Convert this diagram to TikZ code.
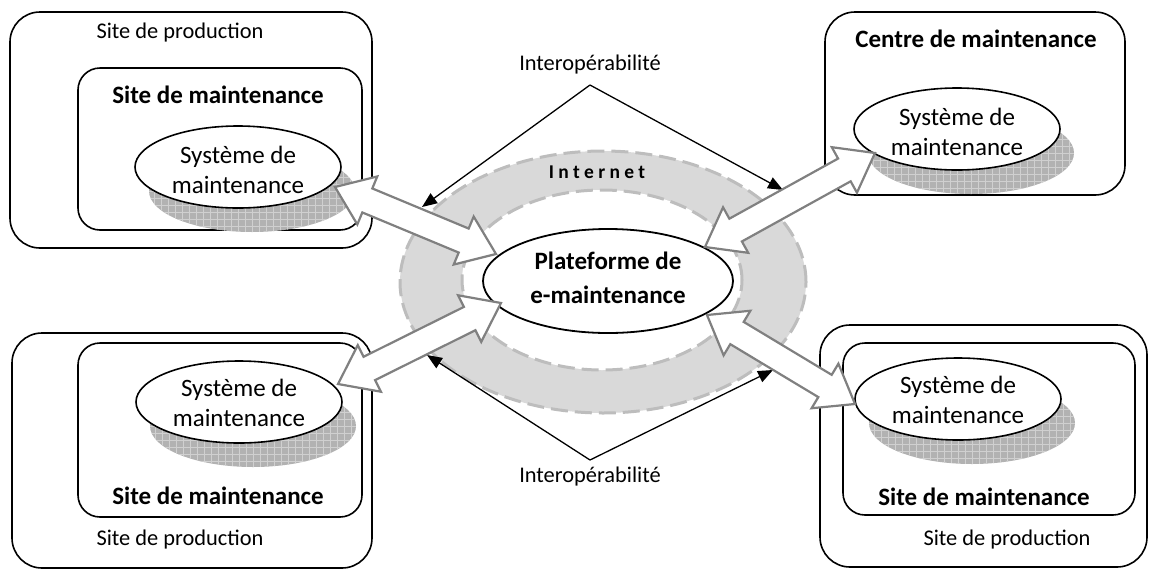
\documentclass[tikz,border=0pt]{standalone}
\usepackage{fontspec}
\setmainfont{Carlito}
\usetikzlibrary{calc,arrows.meta,shapes.geometric}
\definecolor{ringfill}{HTML}{D9D9D9}
\definecolor{ringdash}{HTML}{BDBDBD}
\definecolor{arrgray}{HTML}{808080}
\definecolor{shadowfill}{HTML}{B2B2B2}
\definecolor{shadowgrid}{HTML}{D0D0D0}
\newcommand\fahl{35pt}
\newcommand\fahw{26pt}
\newcommand\fasw{13pt}
\newcommand\fatarrow[3]{%
  \coordinate (#3P) at ($(#1)!\fahl!(#2)$);
  \coordinate (#3Q) at ($(#2)!\fahl!(#1)$);
  \draw[fatarr] (#1)
    -- ($(#3P)!\fahw!90:(#2)$)
    -- ($(#3P)!\fasw!90:(#2)$)
    -- ($(#3Q)!\fasw!-90:(#1)$)
    -- ($(#3Q)!\fahw!-90:(#1)$)
    -- (#2)
    -- ($(#3Q)!\fahw!90:(#1)$)
    -- ($(#3Q)!\fasw!90:(#1)$)
    -- ($(#3P)!\fasw!-90:(#2)$)
    -- ($(#3P)!\fahw!-90:(#2)$)
    -- cycle;
}
\begin{document}
\begin{tikzpicture}[x=1pt,y=-1pt,
  outerbox/.style={draw=black, line width=1.6pt, rounded corners=30pt, inner sep=0pt, outer sep=0pt},
  innerbox/.style={draw=black, line width=1.6pt, rounded corners=22pt, inner sep=0pt, outer sep=0pt},
  sysell/.style={ellipse, draw=black, line width=1.6pt, fill=white, inner sep=0pt, minimum width=206pt, minimum height=82pt},
  shadowell/.style={ellipse, inner sep=0pt, minimum width=206pt, minimum height=82pt, fill=shadowfill,
    path picture={\draw[shadowgrid, line width=0.6pt, step=7pt] (path picture bounding box.south west) grid (path picture bounding box.north east);}},
  systext/.style={align=center, inner sep=0pt, font=\fontsize{25}{30}\selectfont},
  boldlabel/.style={inner sep=0pt, font=\fontsize{25}{30}\selectfont\bfseries},
  plainlabel/.style={inner sep=0pt, font=\fontsize{22.4}{27}\selectfont},
  fatarr/.style={draw=arrgray, fill=white, line width=2.2pt, line join=miter},
  interarr/.style={draw=black, line width=1.3pt, -{Triangle[length=15pt,width=12pt]}},
  ringell/.style={ellipse, inner sep=0pt, draw=ringdash, line width=3pt, dash pattern=on 17pt off 7pt}
]
\useasboundingbox (0,0) rectangle (1151,571);

% ---------- boxes ----------
\node[outerbox, minimum width=362pt, minimum height=236pt] (tlout) at (191,130) {};
\node[innerbox, minimum width=284pt, minimum height=162pt] (tlin) at (220,149) {};
\node[outerbox, minimum width=300pt, minimum height=183pt] (trbox) at (975,103.5) {};
\node[outerbox, minimum width=360pt, minimum height=235pt] (blout) at (192,450.5) {};
\node[innerbox, minimum width=284pt, minimum height=174pt] (blin) at (220,430) {};
\node[outerbox, minimum width=327pt, minimum height=242pt] (brout) at (983.5,446) {};
\node[innerbox, minimum width=292pt, minimum height=172pt] (brin) at (989,429) {};

% ---------- labels ----------
\node[plainlabel] (tlprod) at (180,33) {Site de production};
\node[boldlabel] (tlmaint) at (218,95) {Site de maintenance};
\node[boldlabel] (trcentre) at (976,39) {Centre de maintenance};
\node[boldlabel] (blmaint) at (218,496) {Site de maintenance};
\node[plainlabel] (blprod) at (180,540) {Site de production};
\node[boldlabel] (brmaint) at (984,497) {Site de maintenance};
\node[plainlabel] (brprod) at (1007,540) {Site de production};

% ---------- shadows and system ellipses ----------
\node[shadowell] (tlsh) at (252,191) {};
\node[sysell] (tlsys) at (238,167) {};
\node[systext] (tlsyst) at (238,170) {Système de\\maintenance};

\node[shadowell] (trsh) at (971,153) {};
\node[sysell] (trsys) at (957,129) {};
\node[systext] (trsyst) at (957,132) {Système de\\maintenance};

\node[shadowell] (blsh) at (253,426) {};
\node[sysell] (blsys) at (239,402) {};
\node[systext] (blsyst) at (239,403) {Système de\\maintenance};

\node[shadowell] (brsh) at (972,423) {};
\node[sysell] (brsys) at (958,399) {};
\node[systext] (brsyst) at (958,400) {Système de\\maintenance};

% ---------- Internet ring ----------
\node[ringell, fill=ringfill, minimum width=406pt, minimum height=262pt] (ringout) at (603,282) {};
\node[ringell, fill=white, minimum width=280pt, minimum height=180pt] (ringin) at (602,280) {};
\node[inner sep=0pt, font=\fontsize{19.5}{22}\selectfont\bfseries] (inet) at (597,172)
  {I\kern4.3pt n\kern4.3pt t\kern4.3pt e\kern4.3pt r\kern4.3pt n\kern4.3pt e\kern4.3pt t};

% ---------- interoperability ----------
\node[plainlabel] (itop) at (590,65) {Interopérabilité};
\node[plainlabel] (ibot) at (590,477) {Interopérabilité};
\coordinate (itopapex) at (590,85);
\coordinate (ibotapex) at (590,460);
\coordinate (itoptl) at (422,207);
\coordinate (itoptr) at (783,190);
\coordinate (ibotbl) at (427,355);
\coordinate (ibotbr) at (773,370);
\draw[interarr] (itopapex) -- (itoptl);
\draw[interarr] (itopapex) -- (itoptr);
\draw[interarr] (ibotapex) -- (ibotbl);
\draw[interarr] (ibotapex) -- (ibotbr);

% ---------- central platform ----------
\node[ellipse, draw=black, line width=1.8pt, fill=white, inner sep=0pt,
      minimum width=250pt, minimum height=104pt] (plat) at (608,281) {};
\node[align=center, inner sep=0pt, font=\fontsize{25}{34}\selectfont\bfseries] (platt) at (608,278)
  {Plateforme de\\e-maintenance};

% ---------- double arrows ----------
\coordinate (a1s) at (335,187);
\coordinate (a1e) at (496,254);
\coordinate (a2s) at (705,247);
\coordinate (a2e) at (875,153);
\coordinate (a3s) at (501,303);
\coordinate (a3e) at (338,384);
\coordinate (a4s) at (707,315);
\coordinate (a4e) at (855,404);
\fatarrow{a1s}{a1e}{fa}
\fatarrow{a2s}{a2e}{fb}
\fatarrow{a3s}{a3e}{fc}
\fatarrow{a4s}{a4e}{fd}
\end{tikzpicture}
\end{document}
